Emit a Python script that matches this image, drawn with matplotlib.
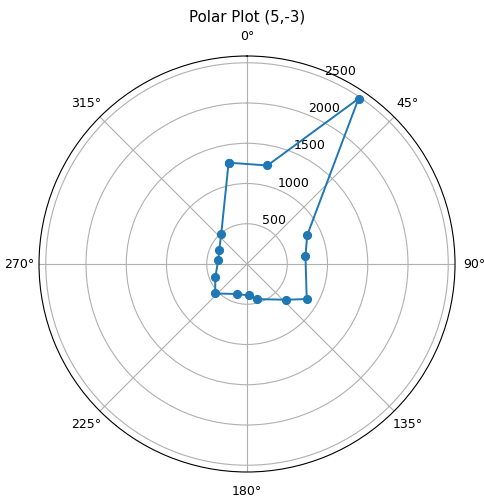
import numpy as np
import matplotlib
matplotlib.use("Agg")
import matplotlib.pyplot as plt

theta_deg = [349.7, 11.7, 34.0, 64.5, 82.6, 120.4, 132.2, 164.7, 177.0,
             197.9, 227.2, 247.0, 278.5, 297.3, 319.4]
radius = [1279, 1250, 2478, 828, 732, 860, 661, 452, 391,
          392, 538, 428, 361, 388, 492]

th = np.deg2rad(theta_deg + theta_deg[:1])
rr = radius + radius[:1]

fig = plt.figure(figsize=(4.84, 5.0), dpi=100)
ax = fig.add_axes([0.0806, 0.056, 0.8595, 0.832], projection='polar')
ax.set_theta_zero_location('N')
ax.set_theta_direction(-1)
ax.plot(th, rr, marker='o', color='#1f77b4', linewidth=1.4, markersize=5.6)
ax.set_title('Polar Plot (5,-3)', fontsize=10.8)
ax.tick_params(labelsize=9)
ax.grid(True)
fig.savefig('out.png', dpi=100)
